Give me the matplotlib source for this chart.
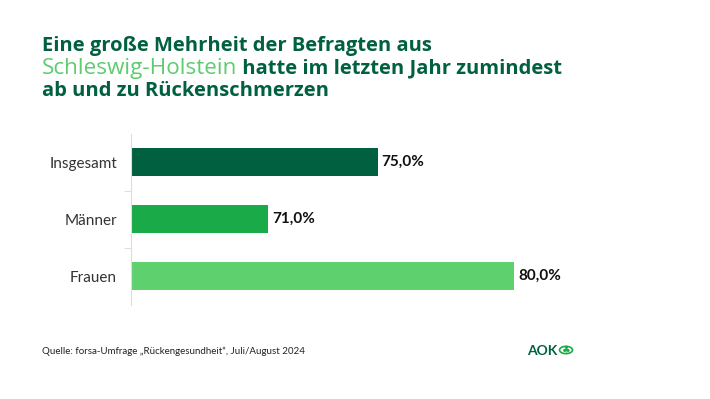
import matplotlib
matplotlib.use("Agg")
import matplotlib.pyplot as plt
from matplotlib.patches import Circle

plt.rcParams['font.family'] = ['Lato', 'DejaVu Sans']

categories = ["Insgesamt", "Männer", "Frauen"]
values = [75.0, 71.0, 80.0]
colors = ["#00603F", "#1BAA48", "#5FD06E"]
value_labels = ["75,0%", "71,0%", "80,0%"]

title_line1 = "Eine große Mehrheit der Befragten aus"
title_hl = "Schleswig-Holstein"
title_line2_rest = " hatte im letzten Jahr zumindest"
title_line3 = "ab und zu Rückenschmerzen"
source = "Quelle: forsa-Umfrage „Rückengesundheit“, Juli/August 2024"

W, H = 710, 399
fig = plt.figure(figsize=(W / 100, H / 100), dpi=100)
fig.patch.set_facecolor("white")

x_left_px, x_right_px = 131, 624
y_top_px, y_bot_px = 133.5, 304.5
ax = fig.add_axes([x_left_px / W, 1 - y_bot_px / H,
                   (x_right_px - x_left_px) / W, (y_bot_px - y_top_px) / H])

y = list(range(len(categories)))
ax.barh(y, values, left=0, height=0.49, color=colors, zorder=2)
ax.set_xlim(66, 84)
ax.set_ylim(len(categories) - 0.5, -0.5)

for yi, v, lab in zip(y, values, value_labels):
    ax.annotate(lab, (v, yi), xytext=(3, 0), textcoords="offset points",
                va="center", ha="left", fontsize=11, fontweight="bold", color="#111111")

ax.set_yticks([i + 0.5 for i in range(len(categories) - 1)], minor=False)
ax.set_yticklabels([])
ax.tick_params(axis="y", which="major", length=5, color="#DDDDDD", width=0.8)
ax.set_yticks(y, minor=True)
ax.set_yticklabels(categories, minor=True)
ax.tick_params(axis="y", which="minor", length=0, pad=10, labelsize=11, labelcolor="#333333")
ax.set_xticks([])
for s in ["top", "right", "bottom"]:
    ax.spines[s].set_visible(False)
ax.spines["left"].set_color("#DDDDDD")
ax.spines["left"].set_linewidth(0.8)
ax.set_facecolor("none")

# Title
tcol = "#00603F"
hcol = "#5ECB6E"
tfam = ["Open Sans", "DejaVu Sans"]
fs = 14.5
x0 = 42 / W
fig.text(x0, 1 - 46 / H, title_line1, fontsize=fs, fontweight="bold", color=tcol, va="center", ha="left", family=tfam)
t_hl = fig.text(x0, 1 - 68.5 / H, title_hl, fontsize=fs, fontweight="medium", color=hcol, va="center", ha="left", family=tfam)
fig.canvas.draw()
r = fig.canvas.get_renderer()
bb = t_hl.get_window_extent(renderer=r)
target_w = 195.0
if bb.width < target_w:
    t_hl.set_fontsize(fs * min(target_w / bb.width, 1.12))
    fig.canvas.draw()
    bb = t_hl.get_window_extent(renderer=r)
fig.text(bb.x1 / W, 1 - 68.5 / H, title_line2_rest, fontsize=fs, fontweight="bold", color=tcol, va="center", ha="left", family=tfam)
fig.text(x0, 1 - 91 / H, title_line3, fontsize=fs, fontweight="bold", color=tcol, va="center", ha="left", family=tfam)

# Footer
fig.text(x0, 1 - 351 / H, source, fontsize=7, color="#222222", va="center", ha="left")
fig.text(527 / W, 1 - 351 / H, "AOK", fontsize=10, fontweight="bold", color="#00603F", va="center", ha="left")
fig.add_artist(Circle((566 / W, 1 - 350 / H), 6.5 / W, transform=fig.transFigure,
                      fill=False, edgecolor="#1BAA48", linewidth=1.2))
fig.text(566 / W, 1 - 350 / H, "♣", fontsize=7, color="#1BAA48", va="center", ha="center",
         family=["DejaVu Sans"])

fig.savefig("out.png", dpi=100, facecolor="white")
